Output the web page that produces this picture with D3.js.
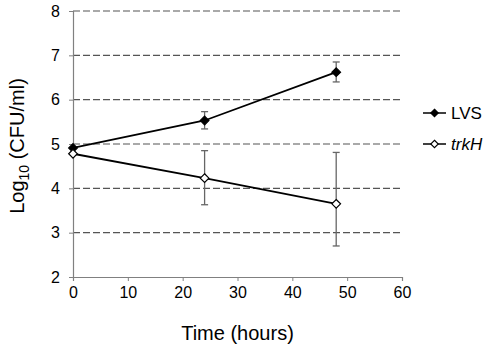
<!DOCTYPE html>
<html>
<head>
<meta charset="utf-8">
<script src="https://cdn.jsdelivr.net/npm/d3@7"></script>
<style>
  body { margin: 0; background: #fff; }
  text { font-family: "Liberation Sans", Arial, sans-serif; }
</style>
</head>
<body>
<script>
// data
const hours = [0, 24, 48];
const lvs = [4.91, 5.53, 6.62];
const lvsHi = [4.91, 5.73, 6.85];
const lvsLo = [4.91, 5.34, 6.40];
const trk = [4.78, 4.23, 3.65];
const trkHi = [4.78, 4.85, 4.81];
const trkLo = [4.78, 3.63, 2.70];
const xTicks = [0, 10, 20, 30, 40, 50, 60];
const yTicks = [2, 3, 4, 5, 6, 7, 8];

const width = 498, height = 349;
const svg = d3.select("body").append("svg")
  .attr("width", width).attr("height", height);

const x = d3.scaleLinear().domain([0, 60]).range([73, 402]);
const y = d3.scaleLinear().domain([2, 8]).range([277, 11]);

// dashed gridlines
svg.selectAll(".grid").data(yTicks.slice(1)).enter().append("line")
  .attr("x1", x(0)).attr("x2", x(60) - 2)
  .attr("y1", d => y(d)).attr("y2", d => y(d))
  .style("stroke", "#555").style("stroke-width", 1.2)
  .style("stroke-dasharray", "7,3");

// axes
const xAxis = svg.append("g").attr("transform", `translate(0,${y(2)})`)
  .call(d3.axisBottom(x).tickValues(xTicks).tickFormat(d3.format("d"))
    .tickSize(4).tickPadding(6));
const yAxis = svg.append("g").attr("transform", `translate(${x(0)},0)`)
  .call(d3.axisLeft(y).tickValues(yTicks).tickFormat(d3.format("d"))
    .tickSize(4).tickPadding(9));
[xAxis, yAxis].forEach(g => {
  g.select(".domain").style("stroke", "#808080").style("stroke-width", 1.2);
  g.selectAll(".tick line").style("stroke", "#808080");
  g.selectAll(".tick text").style("font-size", "16px").style("fill", "#000")
    .style("font-family", "Liberation Sans, Arial, sans-serif");
});

const series = [
  { vals: lvs, hi: lvsHi, lo: lvsLo, fill: "#000" },
  { vals: trk, hi: trkHi, lo: trkLo, fill: "#fff" }
];

const diamond = d3.symbol().type(d3.symbolDiamond2).size(48);
const legendDiamond = d3.symbol().type(d3.symbolDiamond2).size(36);
const line = d3.line().x((d, i) => x(hours[i])).y(d => y(d));

series.forEach(s => {
  // error bars
  hours.forEach((h, i) => {
    if (s.hi[i] === s.lo[i]) return;
    const g = svg.append("g").style("stroke", "#666").style("stroke-width", 1.3);
    g.append("line").attr("x1", x(h)).attr("x2", x(h))
      .attr("y1", y(s.hi[i])).attr("y2", y(s.lo[i]));
    [s.hi[i], s.lo[i]].forEach(v => {
      g.append("line").attr("x1", x(h) - 3.5).attr("x2", x(h) + 3.5)
        .attr("y1", y(v)).attr("y2", y(v));
    });
  });
  svg.append("path").datum(s.vals).attr("d", line)
    .style("fill", "none").style("stroke", "#000").style("stroke-width", 1.8);
});
series.forEach(s => {
  svg.selectAll(null).data(s.vals).enter().append("path")
    .attr("transform", (d, i) => `translate(${x(hours[i])},${y(d)})`)
    .attr("d", diamond)
    .style("fill", s.fill).style("stroke", "#000").style("stroke-width", 1.2);
});

// legend
const legendNames = ["LVS", "trkH"];
legendNames.forEach((name, i) => {
  const ly = 113 + i * 31;
  svg.append("line").attr("x1", 423).attr("x2", 446).attr("y1", ly).attr("y2", ly)
    .style("stroke", "#000").style("stroke-width", 1.5);
  svg.append("path").attr("transform", `translate(434.5,${ly})`).attr("d", legendDiamond)
    .style("fill", series[i].fill).style("stroke", "#000").style("stroke-width", 1.1);
  svg.append("text").attr("x", 451).attr("y", ly + 6)
    .style("font-size", "17px")
    .style("font-style", i === 1 ? "italic" : "normal")
    .text(name);
});

// axis titles
svg.append("text").attr("x", x(30)).attr("y", 340)
  .attr("text-anchor", "middle").style("font-size", "20px")
  .text("Time (hours)");

const yl = svg.append("text")
  .attr("transform", "translate(24,146) rotate(-90)")
  .attr("text-anchor", "middle").style("font-size", "20px");
yl.append("tspan").text("Log");
yl.append("tspan").attr("dy", 5).style("font-size", "14px").text("10");
yl.append("tspan").attr("dy", -5).text(" (CFU/ml)");
</script>
</body>
</html>
